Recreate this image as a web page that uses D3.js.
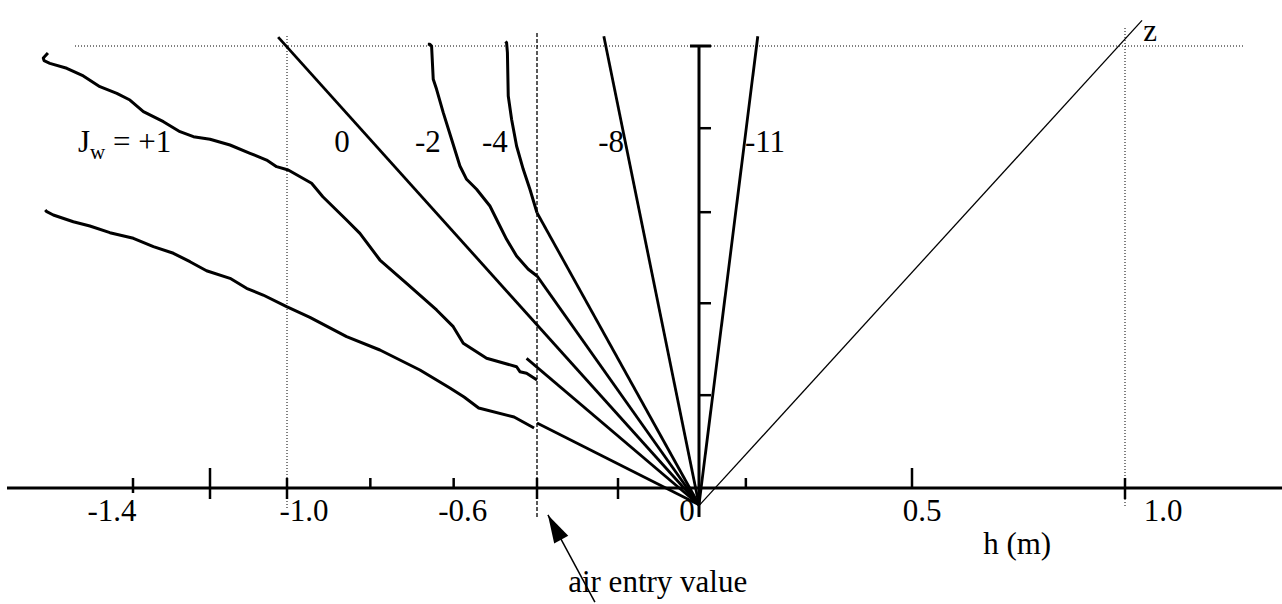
<!DOCTYPE html>
<html>
<head>
<meta charset="utf-8">
<script src="https://cdn.jsdelivr.net/npm/d3@7"></script>
<style>
body { margin: 0; background: #fff; }
text { font-family: "Liberation Serif", "Times New Roman", serif; fill: #000; }
</style>
</head>
<body>
<script>
'use strict';

// h axis (pressure head, m)
var hTicks = [-1.4, -1.2, -1.0, -0.8, -0.6, -0.4, -0.2, 0.11, 0.5, 1.0];
var hLabelText = ['-1.4', '-1.0', '-0.6', '0', '0.5', '1.0'];
var hLabelValue = [-1.4, -1.0, -0.6, 0, 0.5, 1.0];
// z axis (elevation), unlabelled ticks
var zTicks = [1.05, 2.09, 3.12, 4.07];
var zTop = 5;
var airEntry = -0.4;

// unsaturated profiles [h, z]
var profileUpper = [[-1.621, 4.92], [-1.633, 4.864], [-1.631, 4.834], [-1.616, 4.804], [-1.572, 4.748],
    [-1.529, 4.661], [-1.486, 4.540], [-1.442, 4.465], [-1.408, 4.389], [-1.373, 4.257], [-1.321, 4.144],
    [-1.278, 4.031], [-1.243, 3.974], [-1.200, 3.945], [-1.148, 3.880], [-1.096, 3.786], [-1.053, 3.710],
    [-1.027, 3.635], [-0.997, 3.597], [-0.941, 3.447], [-0.914, 3.295], [-0.857, 3.032], [-0.825, 2.881],
    [-0.777, 2.579], [-0.713, 2.316], [-0.641, 2.014], [-0.601, 1.825], [-0.577, 1.637], [-0.521, 1.467],
    [-0.449, 1.372], [-0.441, 1.316], [-0.425, 1.298], [-0.400, 1.222]];
var profileLower = [[-1.628, 3.145], [-1.624, 3.126], [-1.607, 3.088], [-1.555, 3.012], [-1.512, 2.964],
    [-1.460, 2.888], [-1.399, 2.825], [-1.347, 2.730], [-1.295, 2.655], [-1.252, 2.560], [-1.209, 2.458],
    [-1.148, 2.372], [-1.105, 2.259], [-1.062, 2.183], [-1.001, 2.051], [-0.945, 1.931], [-0.857, 1.712],
    [-0.777, 1.561], [-0.681, 1.335], [-0.609, 1.131], [-0.575, 1.029], [-0.540, 0.905], [-0.455, 0.803],
    [-0.407, 0.679]];
var profileM2 = [[-0.662, 5.02], [-0.657, 5.019], [-0.653, 5.0], [-0.649, 4.623], [-0.641, 4.510],
    [-0.625, 4.246], [-0.605, 3.945], [-0.585, 3.643], [-0.569, 3.492], [-0.545, 3.379], [-0.513, 3.190],
    [-0.493, 3.001], [-0.473, 2.813], [-0.449, 2.624], [-0.421, 2.474], [-0.400, 2.398]];
var profileM4 = [[-0.476, 5.05], [-0.473, 5.037], [-0.471, 4.924], [-0.469, 4.434], [-0.461, 4.171],
    [-0.449, 3.869], [-0.433, 3.605], [-0.417, 3.379], [-0.400, 3.114]];

// straight (linear) profiles, each runs to the origin
var origin = [0, -0.19];
var linearStarts = [[-1.023, 5.10], [-0.235, 5.11], [0.138, 5.11], [-0.400, 3.114],
    [-0.400, 2.40], [-0.425, 1.467], [-0.400, 0.735]];
// hydrostatic line z
var zLine = [[0, -0.2], [1.040, 5.29]];

// flux labels
var fluxText = ['0', '-2', '-4', '-8', '-11'];
var fluxAt = [[-0.868, 3.80], [-0.662, 3.80], [-0.501, 3.80], [-0.217, 3.80], [0.155, 3.80]];

(function() {
    var width = 1282;
    var height = 604;
    var fontSize = '31px';
    var svg, x, y;

    window.onload = function() {
        svg = d3.select('body').append('svg')
            .attr('width', width)
            .attr('height', height);

        x = d3.scaleLinear()
            .domain([-1.4, -1.0, -0.4, 0, 1.0])
            .range([133, 287, 537, 699, 1125]);
        y = d3.scaleLinear()
            .domain([0, 5])
            .range([488, 46]);

        drawGuides();
        drawAxes();
        drawProfiles();
        drawLabels();
    };

    function drawGuides() {
        // dotted line at the top of the column
        svg.append('line')
            .attr('x1', 75).attr('x2', 1245)
            .attr('y1', y(zTop)).attr('y2', y(zTop))
            .attr('stroke', '#000').attr('stroke-width', 1)
            .attr('stroke-dasharray', '1,2');
        // dotted verticals at -1.0 and 1.0
        [[-1.0, 36, 510], [1.0, 28, 508]].forEach(function(d) {
            svg.append('line')
                .attr('x1', x(d[0])).attr('x2', x(d[0]))
                .attr('y1', d[1]).attr('y2', d[2])
                .attr('stroke', '#000').attr('stroke-width', 1)
                .attr('stroke-dasharray', '1,2');
        });
        // dashed line at the air entry value
        svg.append('line')
            .attr('x1', x(airEntry)).attr('x2', x(airEntry))
            .attr('y1', 33).attr('y2', 517)
            .attr('stroke', '#000').attr('stroke-width', 1.3)
            .attr('stroke-dasharray', '4,2');
    }

    function drawAxes() {
        var tickUp = [10, 20, 10, 10, 10, 10, 10, 10, 20, 10];
        var tickDown = [5, 11, 11, 0, 0, 11, 11, 0, 0, 11];

        svg.append('line')
            .attr('x1', 7).attr('x2', width)
            .attr('y1', y(0)).attr('y2', y(0))
            .attr('stroke', '#000').attr('stroke-width', 3);

        svg.selectAll('.htick')
            .data(hTicks)
            .enter()
            .append('line')
            .attr('class', 'htick')
            .attr('x1', function(d) { return x(d); })
            .attr('x2', function(d) { return x(d); })
            .attr('y1', function(d, i) { return y(0) - tickUp[i]; })
            .attr('y2', function(d, i) { return y(0) + tickDown[i]; })
            .attr('stroke', '#000').attr('stroke-width', 2.5);

        // vertical z axis with cap
        svg.append('line')
            .attr('x1', x(0)).attr('x2', x(0))
            .attr('y1', y(zTop)).attr('y2', 517)
            .attr('stroke', '#000').attr('stroke-width', 3);
        svg.append('line')
            .attr('x1', x(0) - 9).attr('x2', x(0) + 12)
            .attr('y1', y(zTop)).attr('y2', y(zTop))
            .attr('stroke', '#000').attr('stroke-width', 3);
        svg.selectAll('.ztick')
            .data(zTicks)
            .enter()
            .append('line')
            .attr('class', 'ztick')
            .attr('x1', x(0)).attr('x2', x(0) + 12)
            .attr('y1', function(d) { return y(d); })
            .attr('y2', function(d) { return y(d); })
            .attr('stroke', '#000').attr('stroke-width', 2.5);

        var labelDx = [-21, 17, 9, -12, 10, 38];
        svg.selectAll('.hlabel')
            .data(hLabelText)
            .enter()
            .append('text')
            .attr('class', 'hlabel')
            .attr('x', function(d, i) { return x(hLabelValue[i]) + labelDx[i]; })
            .attr('y', 521)
            .attr('text-anchor', 'middle')
            .style('font-size', fontSize)
            .text(function(d) { return d; });
    }

    function drawProfiles() {
        var line = d3.line()
            .x(function(d) { return x(d[0]); })
            .y(function(d) { return y(d[1]); });

        var g = svg.append('g');
        g.selectAll('.profile')
            .data([profileUpper, profileLower, profileM2, profileM4])
            .enter()
            .append('path')
            .attr('class', 'profile')
            .attr('d', line)
            .attr('fill', 'none')
            .attr('stroke', '#000')
            .attr('stroke-width', 3)
            .attr('stroke-linejoin', 'round');

        g.selectAll('.linear')
            .data(linearStarts)
            .enter()
            .append('path')
            .attr('class', 'linear')
            .attr('d', function(d) { return line([d, origin]); })
            .attr('fill', 'none')
            .attr('stroke', '#000')
            .attr('stroke-width', 2.8);

        g.append('path')
            .attr('d', line(zLine))
            .attr('fill', 'none')
            .attr('stroke', '#000')
            .attr('stroke-width', 1.3);
    }

    function drawLabels() {
        svg.selectAll('.flux')
            .data(fluxText)
            .enter()
            .append('text')
            .attr('class', 'flux')
            .attr('x', function(d, i) { return x(fluxAt[i][0]); })
            .attr('y', function(d, i) { return y(fluxAt[i][1]); })
            .attr('text-anchor', 'middle')
            .style('font-size', fontSize)
            .text(function(d) { return d; });

        var jw = svg.append('text')
            .attr('x', x(-1.543))
            .attr('y', y(3.80))
            .style('font-size', fontSize);
        jw.append('tspan').text('J');
        jw.append('tspan').attr('dy', 7).style('font-size', '21px').text('w');
        jw.append('tspan').attr('dy', -7).text(' = +1');

        svg.append('text')
            .attr('x', x(1.059)).attr('y', y(5.06))
            .attr('text-anchor', 'middle')
            .style('font-size', fontSize)
            .text('z');

        svg.append('text')
            .attr('x', x(0.667)).attr('y', y(-0.75))
            .style('font-size', fontSize)
            .text('h (m)');

        svg.append('text')
            .attr('x', x(-0.323)).attr('y', y(-1.18))
            .style('font-size', fontSize)
            .text('air entry value');

        // arrow to the air entry value
        var tail = [x(-0.257), y(-1.29)];
        var tip = [x(-0.373), y(-0.305)];
        svg.append('line')
            .attr('x1', tail[0]).attr('y1', tail[1])
            .attr('x2', tip[0]).attr('y2', tip[1])
            .attr('stroke', '#000').attr('stroke-width', 1.5);
        var ang = Math.atan2(tip[1] - tail[1], tip[0] - tail[0]);
        var len = 28, half = 8;
        var bx = tip[0] - len * Math.cos(ang), by = tip[1] - len * Math.sin(ang);
        svg.append('path')
            .attr('d', 'M' + tip[0] + ',' + tip[1] +
                'L' + (bx + half * Math.sin(ang)) + ',' + (by - half * Math.cos(ang)) +
                'L' + (bx - half * Math.sin(ang)) + ',' + (by + half * Math.cos(ang)) + 'Z')
            .attr('fill', '#000');
    }
})();
</script>
</body>
</html>
